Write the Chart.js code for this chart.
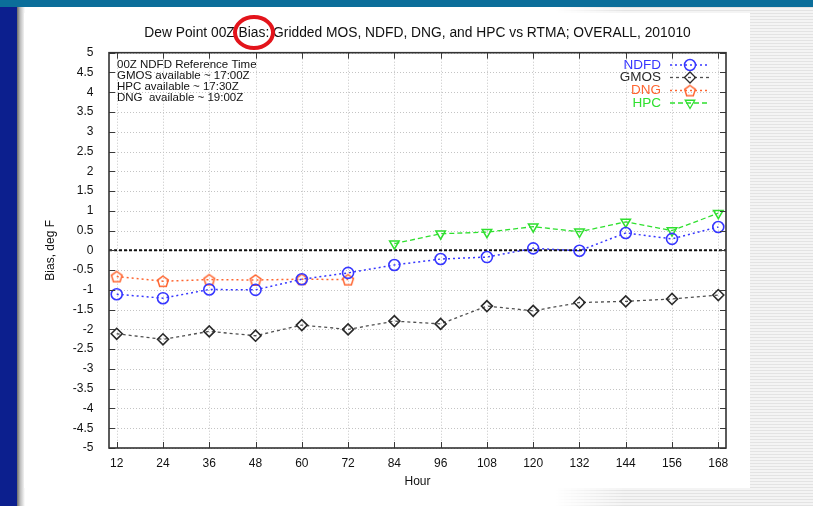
<!DOCTYPE html>
<html>
<head>
<meta charset="utf-8">
<script src="https://cdn.jsdelivr.net/npm/chart.js@4/dist/chart.umd.min.js"></script>
<style>
  html, body { margin: 0; padding: 0; background: #ffffff; }
  body { width: 813px; height: 506px; position: relative; overflow: hidden; font-family: "Liberation Sans", Arial, sans-serif; }
  .abs { position: absolute; }
  #topbar { left: 0; top: 0; width: 813px; height: 7px; background: #0b6e9a; }
  #sidebar { left: 0; top: 7px; width: 17px; height: 499px; background: #0c1f8e; }
  #shade { left: 17px; top: 7px; width: 8px; height: 499px; background: linear-gradient(to right, #6a6a6a, #bdbdbd 40%, #ffffff); }
  #stripes { left: 555px; top: 7px; width: 258px; height: 499px;
    background: repeating-linear-gradient(to bottom, #e3e3e3 0px, #e3e3e3 1px, #f4f4f4 1px, #f4f4f4 3px);
    -webkit-mask-image: linear-gradient(to right, transparent 0px, #000 70px);
    mask-image: linear-gradient(to right, transparent 0px, #000 70px); }
  #panel { left: 24px; top: 13px; width: 726px; height: 475px; background: #ffffff; }
  #chart { left: 0; top: 0; }
  #ring { left: 233px; top: 15px; width: 42px; height: 35px; box-sizing: border-box; border: 4px solid #e3141b; border-radius: 50%; }
</style>
</head>
<body>
<div id="topbar" class="abs"></div>
<div id="sidebar" class="abs"></div>
<div id="shade" class="abs"></div>
<div id="stripes" class="abs"></div>
<div id="panel" class="abs"></div>
<canvas id="chart" class="abs" width="813" height="506"></canvas>
<div id="ring" class="abs"></div>
<script>
// Forecast hours and dew point bias (deg F) per guidance source
const hours = [12, 24, 36, 48, 60, 72, 84, 96, 108, 120, 132, 144, 156, 168];
const ndfd  = [-1.11, -1.21, -0.99, -1.00, -0.73, -0.57, -0.37, -0.22, -0.17, 0.05, -0.01, 0.44, 0.29, 0.59];
const gmos  = [-2.11, -2.25, -2.05, -2.16, -1.89, -2.00, -1.79, -1.86, -1.41, -1.53, -1.32, -1.29, -1.23, -1.13];
const dngHours = [12, 24, 36, 48, 60, 72];
const dng   = [-0.66, -0.78, -0.74, -0.75, -0.73, -0.74];
const hpcHours = [84, 96, 108, 120, 132, 144, 156, 168];
const hpc   = [0.17, 0.42, 0.46, 0.60, 0.47, 0.72, 0.50, 0.94];

const titleText = 'Dew Point 00Z Bias: Gridded MOS, NDFD, DNG, and HPC vs RTMA; OVERALL, 201010';
const noteLines = ['00Z NDFD Reference Time', 'GMOS available ~ 17:00Z', 'HPC available ~ 17:30Z', 'DNG  available ~ 19:00Z'];
const xTitle = 'Hour';
const yTitle = 'Bias, deg F';

const FONT = '"Liberation Sans", Arial, Helvetica, sans-serif';
Chart.defaults.font.family = FONT;
Chart.defaults.color = '#111111';

const pts = (xs, ys) => xs.map((x, i) => ({ x: x, y: ys[i] }));

// outlined pentagon marker
function pentagonMarker(color) {
  const c = document.createElement('canvas');
  c.width = 16; c.height = 16;
  const g = c.getContext('2d');
  g.strokeStyle = color; g.lineWidth = 1.5;
  g.beginPath();
  for (let i = 0; i < 5; i++) {
    const a = -Math.PI / 2 + i * 2 * Math.PI / 5;
    const px = 8 + 5.6 * Math.cos(a), py = 8.6 + 5.6 * Math.sin(a);
    if (i === 0) g.moveTo(px, py); else g.lineTo(px, py);
  }
  g.closePath(); g.stroke();
  return c;
}

const C_NDFD = '#3737ff', C_GMOS = '#2a2a2a', C_DNG = '#ff6530', C_HPC = '#2fe02f';

const datasets = [
  { label: 'NDFD', data: pts(hours, ndfd), borderColor: C_NDFD, borderWidth: 1.5, borderDash: [2, 3],
    pointStyle: 'circle', pointRadius: 5.5, pointBorderWidth: 1.6, pointBorderColor: C_NDFD, pointBackgroundColor: 'rgba(0,0,0,0)' },
  { label: 'GMOS', data: pts(hours, gmos), borderColor: '#505050', borderWidth: 1.3, borderDash: [3, 3],
    pointStyle: 'rectRot', pointRadius: 5.5, pointBorderWidth: 1.6, pointBorderColor: C_GMOS, pointBackgroundColor: 'rgba(0,0,0,0)' },
  { label: 'DNG', data: pts(dngHours, dng), borderColor: C_DNG, borderWidth: 1.5, borderDash: [2, 3],
    pointStyle: pentagonMarker(C_DNG), pointRadius: 6, pointBorderWidth: 1.5, pointBorderColor: C_DNG, pointBackgroundColor: 'rgba(0,0,0,0)' },
  { label: 'HPC', data: pts(hpcHours, hpc), borderColor: C_HPC, borderWidth: 1.3, borderDash: [5, 3],
    pointStyle: 'triangle', pointRotation: 180, pointRadius: 5.5, pointBorderWidth: 1.5, pointBorderColor: C_HPC, pointBackgroundColor: 'rgba(0,0,0,0)' }
];
datasets.forEach(d => { d.fill = false; d.tension = 0; d.showLine = true; });

// grid, zero line, frame, inward ticks, title, notes and key
const framePlugin = {
  id: 'frame',
  beforeDatasetsDraw(chart) {
    const { ctx, chartArea: a, scales: { x, y } } = chart;
    ctx.save();
    ctx.strokeStyle = '#c4c4c4'; ctx.lineWidth = 1; ctx.setLineDash([1, 2]);
    x.ticks.forEach(t => {
      const px = Math.round(x.getPixelForValue(t.value)) + 0.5;
      ctx.beginPath(); ctx.moveTo(px, a.top); ctx.lineTo(px, a.bottom); ctx.stroke();
    });
    y.ticks.forEach(t => {
      const py = Math.round(y.getPixelForValue(t.value)) + 0.5;
      ctx.beginPath(); ctx.moveTo(a.left, py); ctx.lineTo(a.right, py); ctx.stroke();
    });
    // zero reference
    const y0 = y.getPixelForValue(0);
    ctx.strokeStyle = '#111111'; ctx.lineWidth = 2; ctx.setLineDash([3, 2]);
    ctx.beginPath(); ctx.moveTo(a.left, y0); ctx.lineTo(a.right, y0); ctx.stroke();
    ctx.restore();
  },
  afterDraw(chart) {
    const { ctx, chartArea: a, scales: { x, y } } = chart;
    ctx.save();
    ctx.setLineDash([]);
    ctx.strokeStyle = '#3a3a3a'; ctx.lineWidth = 1;
    const tl = 6;
    x.ticks.forEach(t => {
      const px = Math.round(x.getPixelForValue(t.value)) + 0.5;
      ctx.beginPath(); ctx.moveTo(px, a.bottom); ctx.lineTo(px, a.bottom - tl); ctx.stroke();
      ctx.beginPath(); ctx.moveTo(px, a.top); ctx.lineTo(px, a.top + tl); ctx.stroke();
    });
    y.ticks.forEach(t => {
      const py = Math.round(y.getPixelForValue(t.value)) + 0.5;
      ctx.beginPath(); ctx.moveTo(a.left, py); ctx.lineTo(a.left + tl, py); ctx.stroke();
      ctx.beginPath(); ctx.moveTo(a.right, py); ctx.lineTo(a.right - tl, py); ctx.stroke();
    });
    ctx.strokeStyle = '#333333'; ctx.lineWidth = 1.6;
    ctx.strokeRect(a.left, a.top, a.right - a.left, a.bottom - a.top);

    // title
    const cx = (a.left + a.right) / 2;
    ctx.fillStyle = '#111111';
    ctx.font = '13.8px ' + FONT;
    ctx.textAlign = 'center'; ctx.textBaseline = 'middle';
    ctx.fillText(titleText, cx, 33);

    // availability notes
    ctx.font = '11.5px ' + FONT;
    ctx.textAlign = 'left';
    noteLines.forEach((s, i) => ctx.fillText(s, a.left + 8, 64.5 + i * 11.2));

    // key
    const keyTextX = 661, lx0 = 670, lx1 = 709, mx = 690;
    const rowY = [65, 77.5, 90.5, 103];
    const textColors = [C_NDFD, C_GMOS, C_DNG, C_HPC];
    ctx.font = '13.5px ' + FONT;
    ctx.textAlign = 'right';
    chart.data.datasets.forEach((d, i) => {
      const ry = rowY[i];
      ctx.fillStyle = textColors[i];
      ctx.fillText(d.label, keyTextX, ry);
      ctx.strokeStyle = d.borderColor; ctx.lineWidth = d.borderWidth;
      ctx.setLineDash(d.borderDash);
      ctx.beginPath(); ctx.moveTo(lx0, ry); ctx.lineTo(lx1, ry); ctx.stroke();
      ctx.setLineDash([]);
      ctx.strokeStyle = d.pointBorderColor; ctx.fillStyle = 'rgba(0,0,0,0)';
      Chart.helpers.drawPoint(ctx, {
        pointStyle: d.pointStyle, rotation: d.pointRotation || 0,
        radius: d.pointRadius, borderWidth: d.pointBorderWidth
      }, mx, ry);
    });
    ctx.restore();
  }
};

new Chart(document.getElementById('chart'), {
  type: 'line',
  data: { datasets: datasets },
  options: {
    responsive: false,
    animation: false,
    devicePixelRatio: 1,
    layout: { padding: { left: 39, right: 87, top: 52.7, bottom: 13 } },
    plugins: { legend: { display: false }, title: { display: false }, tooltip: { enabled: false } },
    scales: {
      x: {
        type: 'linear', min: 10, max: 170,
        afterBuildTicks: s => { s.ticks = hours.map(v => ({ value: v })); },
        afterFit: s => { s.height = 45; },
        grid: { display: false }, border: { display: false },
        ticks: { padding: 0, font: { size: 12 }, color: '#111111', maxRotation: 0, autoSkip: false },
        title: { display: true, text: xTitle, font: { size: 12 }, color: '#111111', padding: { top: 4, bottom: 4 } }
      },
      y: {
        min: -5, max: 5,
        ticks: { stepSize: 0.5, padding: 7.5, font: { size: 12 }, color: '#111111', autoSkip: false,
                 callback: v => String(Math.round(v * 10) / 10) },
        afterFit: s => { s.width = 70; },
        grid: { display: false }, border: { display: false },
        title: { display: true, text: yTitle, font: { size: 12 }, color: '#111111', padding: { top: 4, bottom: 4 } }
      }
    }
  },
  plugins: [framePlugin]
});
</script>
</body>
</html>
